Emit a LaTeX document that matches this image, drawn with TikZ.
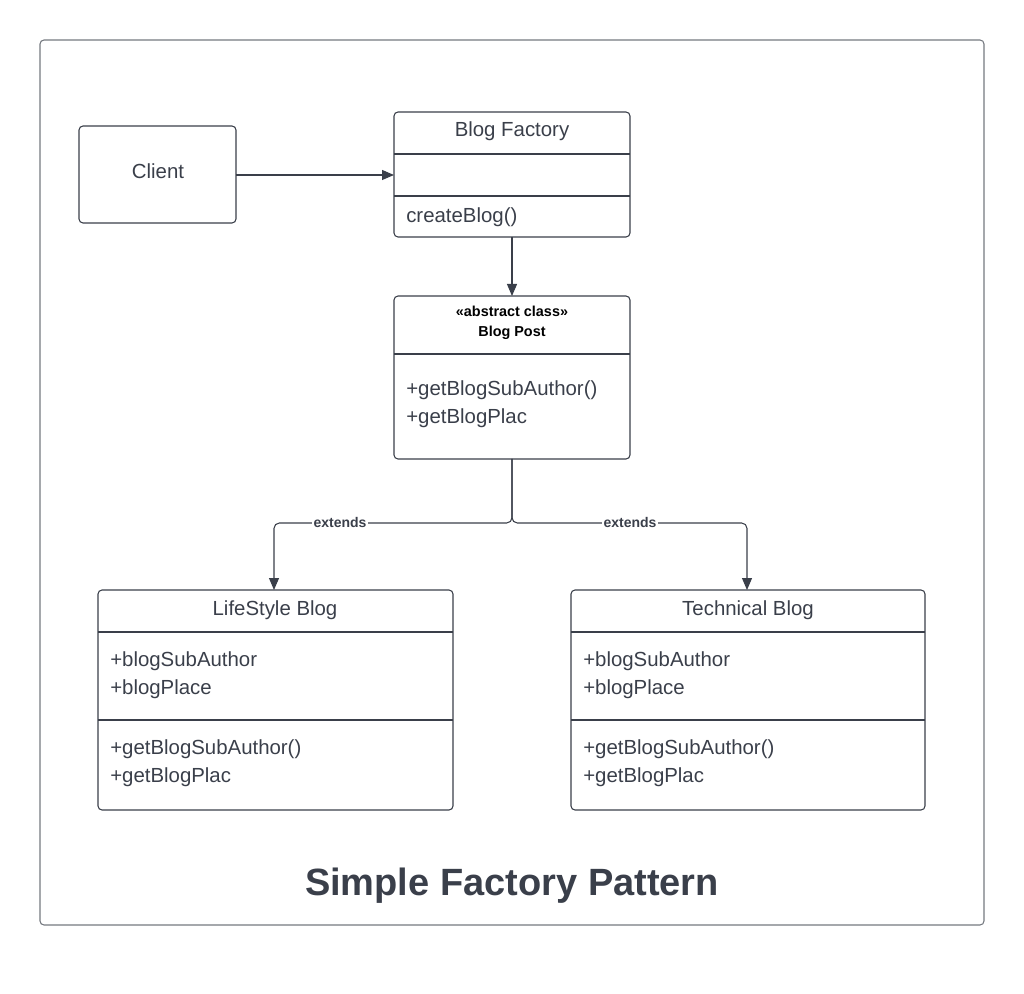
\documentclass[tikz,border=0pt]{standalone}
\usepackage{fontspec}
\setmainfont{Liberation Sans}
\usetikzlibrary{arrows.meta}
\definecolor{ink}{HTML}{3A3F4A}
\begin{document}
\begin{tikzpicture}[x=0.75pt,y=-0.75pt,
  box/.style={draw=ink,line width=0.8pt,rounded corners=3pt},
  txt/.style={text=ink,font=\fontsize{15.3pt}{17pt}\selectfont,inner sep=0pt},
  lft/.style={txt,anchor=west,align=left},
  arr/.style={draw=ink,line width=0.8pt,-{Triangle[length=9pt,width=7.5pt]}},
  lbl/.style={fill=white,inner sep=1pt,font=\bfseries\fontsize{10.5pt}{12pt}\selectfont,text=ink}]
\useasboundingbox (0,0) rectangle (1024,994);
\draw[box,draw=ink!70] (40,40) rectangle (984,925);
% client
\draw[box] (79,126) rectangle (236,223);
\node[txt] (client) at (158,171) {Client};
\coordinate (cr) at (236,175);
% factory
\draw[box] (394,112) rectangle (630,237);
\draw[draw=ink,line width=0.8pt] (394,154) -- (630,154) (394,196) -- (630,196);
\node[txt] (bf) at (512,131) {Blog Factory};
\node[lft] (cb) at (406,217) {createBlog()};
\coordinate (fl) at (394,175);
\coordinate (fb) at (512,237);
% blog post
\draw[box] (394,296) rectangle (630,459);
\draw[draw=ink,line width=0.8pt] (394,354) -- (630,354);
\node[align=center,font=\bfseries\fontsize{10.8pt}{15pt}\selectfont,inner sep=0pt] (bp) at (512,323) {\textless\textless abstract class\textgreater\textgreater\\Blog Post};
\node[lft] (bpm) at (406,404) {+getBlogSubAuthor()\\[4pt]+getBlogPlac};
\coordinate (pt) at (512,296);
\coordinate (pb) at (512,459);
\coordinate (j) at (512,523);
% lifestyle
\draw[box] (98,590) rectangle (453,810);
\draw[draw=ink,line width=0.8pt] (98,632) -- (453,632) (98,720) -- (453,720);
\node[txt] (ls) at (275,610) {LifeStyle Blog};
\node[lft] (lsa) at (110,675) {+blogSubAuthor\\[4pt]+blogPlace};
\node[lft] (lsm) at (110,763) {+getBlogSubAuthor()\\[4pt]+getBlogPlac};
\coordinate (lt) at (274,590);
% technical
\draw[box] (571,590) rectangle (925,810);
\draw[draw=ink,line width=0.8pt] (571,632) -- (925,632) (571,720) -- (925,720);
\node[txt] (tb) at (748,610) {Technical Blog};
\node[lft] (tba) at (583,675) {+blogSubAuthor\\[4pt]+blogPlace};
\node[lft] (tbm) at (583,763) {+getBlogSubAuthor()\\[4pt]+getBlogPlac};
\coordinate (tt) at (747,590);
% connectors
\draw[arr] (cr) -- (fl);
\draw[arr] (fb) -- (pt);
\draw[arr,rounded corners=4pt] (pb) -- (j) -- (274,523) -- (lt);
\draw[arr,rounded corners=4pt] (pb) -- (j) -- (747,523) -- (tt);
\node[lbl] (e1) at (340,522) {extends};
\node[lbl] (e2) at (630,522) {extends};
\node[font=\bfseries\fontsize{28.5pt}{32pt}\selectfont,text=ink] (title) at (512,886) {Simple Factory Pattern};
\end{tikzpicture}
\end{document}
